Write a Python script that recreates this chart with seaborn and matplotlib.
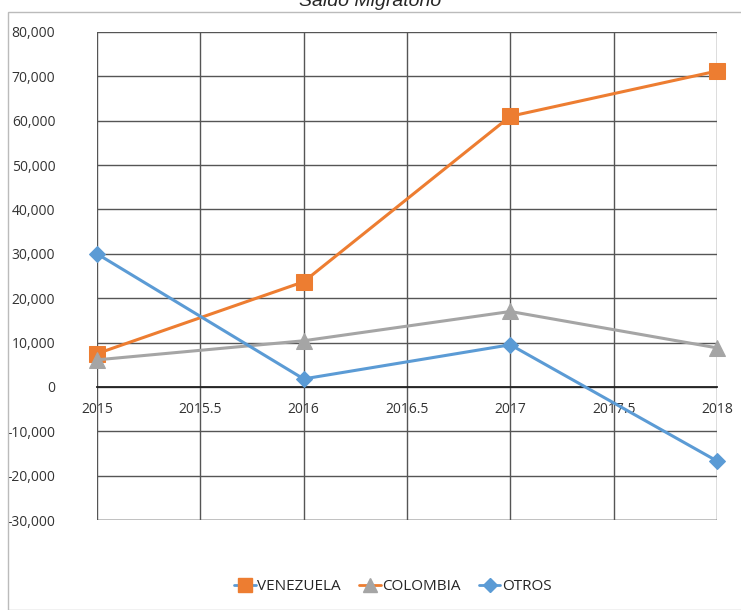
import matplotlib
matplotlib.use("Agg")
import matplotlib.pyplot as plt
from matplotlib.lines import Line2D
from matplotlib.patches import Rectangle
from matplotlib.ticker import FuncFormatter, MultipleLocator
import pandas as pd
import seaborn as sns

years = [2015, 2016, 2017, 2018]
venezuela = [7500, 23700, 61000, 71200]
colombia = [6100, 10400, 17000, 8800]
otros = [30000, 1800, 9500, -16700]
series_names = ["VENEZUELA", "COLOMBIA", "OTROS"]

ORANGE = "#ED7D31"
GRAY = "#A5A5A5"
BLUE = "#5B9BD5"

sns.set_theme(style="white")
plt.rcParams["font.family"] = ["Open Sans", "DejaVu Sans"]

df = pd.DataFrame({"year": years * 3,
                   "value": venezuela + colombia + otros,
                   "serie": sum([[n] * len(years) for n in series_names], [])})

fig = plt.figure(figsize=(7.41, 6.10), dpi=100)
ax = fig.add_axes([97 / 741, 1 - 520 / 610, 620 / 741, 488 / 610])

styles = {"VENEZUELA": (ORANGE, "s", 11), "COLOMBIA": (GRAY, "^", 11), "OTROS": (BLUE, "D", 8)}
for name in series_names:
    sub = df[df["serie"] == name]
    color, marker, ms = styles[name]
    sns.lineplot(data=sub, x="year", y="value", ax=ax, color=color, linewidth=2.2,
                 marker=marker, markersize=ms, markeredgecolor=color, legend=False, zorder=3)
for line in ax.lines:
    line.set_clip_on(False)

ax.set_xlim(2015, 2018)
ax.set_ylim(-30000, 80000)
ax.xaxis.set_major_locator(MultipleLocator(0.5))
ax.yaxis.set_major_locator(MultipleLocator(10000))
ax.xaxis.set_major_formatter(FuncFormatter(lambda v, p: f"{v:g}"))
ax.yaxis.set_major_formatter(FuncFormatter(lambda v, p: f"{v:,.0f}"))
ax.grid(True, color="#555555", linewidth=1.0)
for s in ["top", "right", "left"]:
    ax.spines[s].set_visible(False)
ax.spines["bottom"].set_position(("data", 0))
ax.spines["bottom"].set_color("#222222")
ax.spines["bottom"].set_linewidth(1.3)
ax.axhline(-30000, color="#555555", linewidth=1.0, zorder=0)
ax.tick_params(axis="both", length=0, labelsize=10, colors="#333333")
ax.tick_params(axis="x", pad=11)
ax.tick_params(axis="y", pad=30)
ax.set_xlabel("")
ax.set_ylabel("")

fig.text(0.5, 1 - 2 / 610, "Saldo Migratorio", ha="center", va="center",
         fontsize=14, style="italic", family=["Liberation Sans", "DejaVu Sans"])

fig.patches.append(Rectangle((8 / 741, 0), 1, 1 - 12 / 610, transform=fig.transFigure,
                             fill=False, edgecolor="#BBBBBB", linewidth=1.0))

handles = [
    Line2D([], [], color=BLUE, marker="s", markerfacecolor=ORANGE, markeredgecolor=ORANGE, markersize=10, linewidth=2),
    Line2D([], [], color=ORANGE, marker="^", markerfacecolor=GRAY, markeredgecolor=GRAY, markersize=10, linewidth=2),
    Line2D([], [], color=BLUE, marker="D", markerfacecolor=BLUE, markeredgecolor=BLUE, markersize=7, linewidth=2),
]
fig.legend(handles, series_names, loc="center", bbox_to_anchor=(393 / 741, 1 - 587 / 610),
           ncol=3, frameon=False, fontsize=11, handlelength=1.4, handletextpad=0.1, columnspacing=1.2)

fig.savefig("out.png", dpi=100)
